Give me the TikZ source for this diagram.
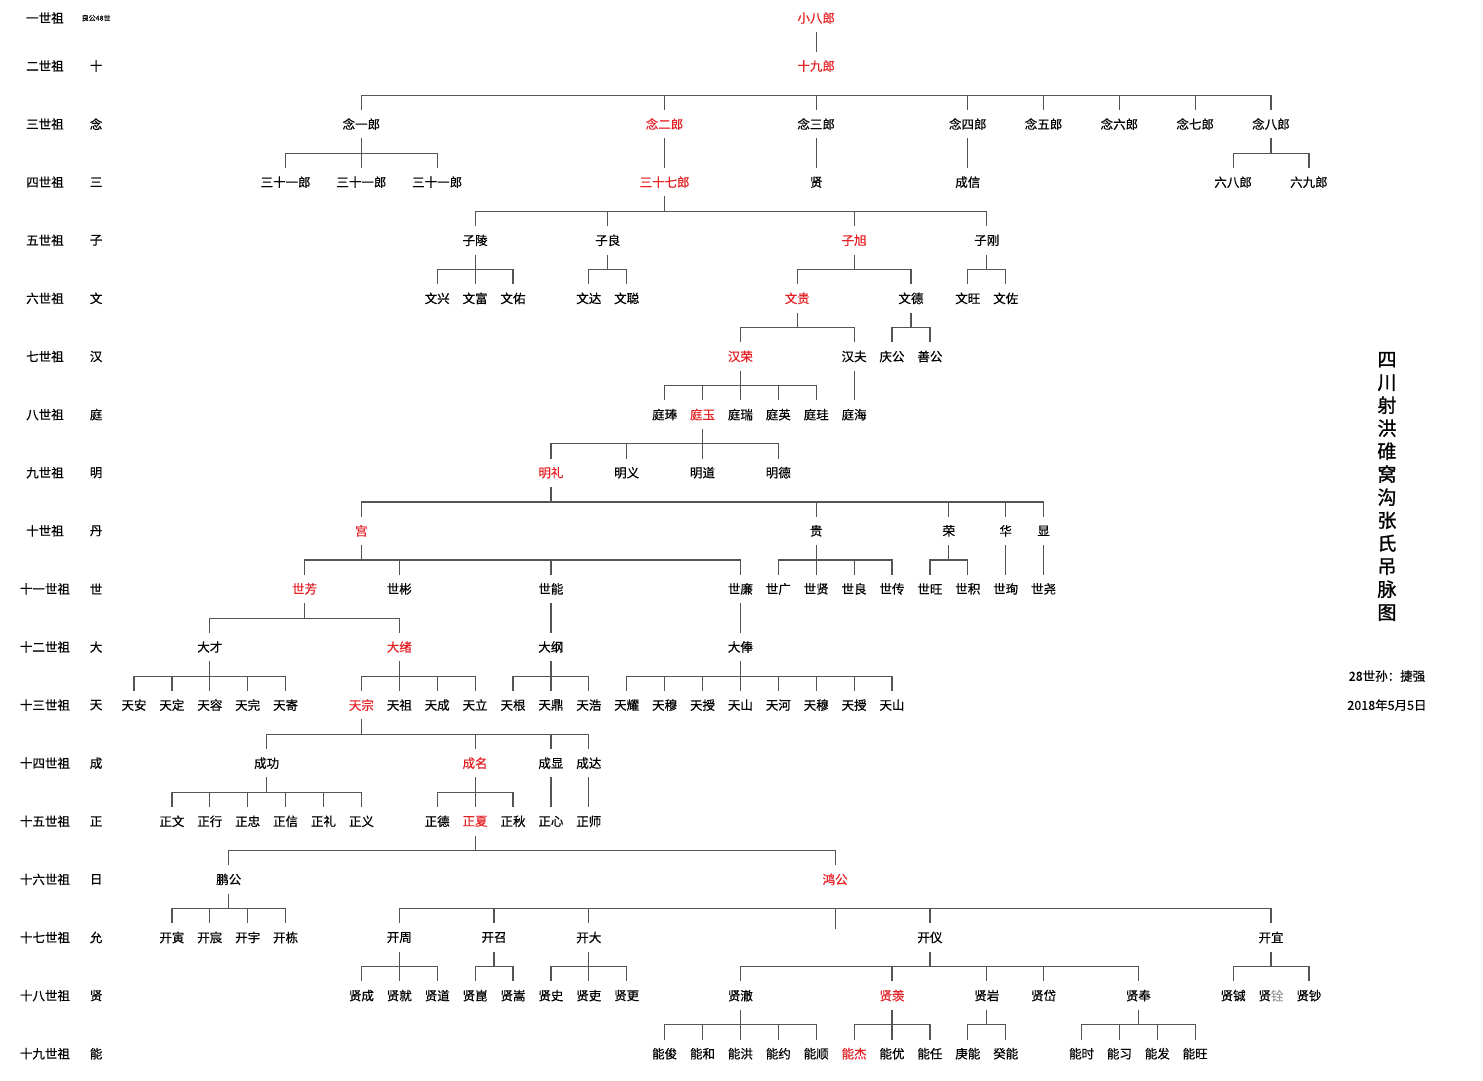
\documentclass[tikz,border=0pt]{standalone}
\usepackage{fontspec}
\setmainfont{Noto Sans CJK SC}[FakeBold=0.5]
\newfontfamily\titlefont{Noto Sans CJK SC}[FakeBold=1.2]
\definecolor{kinred}{RGB}{228,32,36}
\definecolor{kingray}{RGB}{85,85,85}
% parent -> children: drop line, bar, and a leg to each child
\newcommand\kin[2]{%
  \draw[link] (#1.south) -- ++(0pt,-15pt) coordinate (#1-bar);
  \foreach \kid in {#2} \draw[link] (#1-bar) -| (\kid.north);
}
% same, without the drop line
\newcommand\kinbare[2]{%
  \coordinate (#1-bar) at ([yshift=-15pt]#1.south);
  \foreach \kid in {#2} \draw[link] (#1-bar) -| (\kid.north);
}
\begin{document}
\begin{tikzpicture}[x=37.9pt,y=-58.1pt,
    person/.style={minimum height=28pt,inner sep=0pt,font=\fontsize{12.5}{14}\selectfont},
    main/.style={person,text=kinred},
    note/.style={inner sep=0pt,font=\fontsize{7}{8}\selectfont},
    title/.style={inner sep=0pt,align=center,font=\titlefont\fontsize{19}{23}\selectfont},
    link/.style={draw=kingray,line width=1.2pt}]
    \useasboundingbox (-3.5356,0.86403) rectangle (35.5937,19.4527);
    % generation column
    \node[person] (gen1) at (-2.35,1.174) {一世祖};
    \node[note] (origin) at (-1,1.174) {良公48世};
    \foreach \g/\lab/\ch in {2/二世祖/十,3/三世祖/念,4/四世祖/三,5/五世祖/子,6/六世祖/文,
      7/七世祖/汉,8/八世祖/庭,9/九世祖/明,10/十世祖/丹,11/十一世祖/世,12/十二世祖/大,
      13/十三世祖/天,14/十四世祖/成,15/十五世祖/正,16/十六世祖/日,17/十七世祖/允,
      18/十八世祖/贤,19/十九世祖/能} {
        \node[person] (gen\g) at (-2.35,\g) {\lab};
        \node[person] (char\g) at (-1,\g) {\ch};
      }
    % 1-4
    \node[main] (xiaobalang) at (18,1.174) {小八郎};
    \node[main] (shijiulang) at (18,2) {十九郎};
    \foreach \n/\x/\t in {nianyi/6/念一郎,niansan/18/念三郎,niansi/22/念四郎,nianwu/24/念五郎,
      nianliu/26/念六郎,nianqi/28/念七郎,nianba/30/念八郎}
      \node[person] (\n) at (\x,3) {\t};
    \node[main] (nianer) at (14,3) {念二郎};
    \foreach \n/\x/\t in {sanshiyiA/4/三十一郎,sanshiyiB/6/三十一郎,sanshiyiC/8/三十一郎,
      xian/18/贤,chengxin/22/成信,liuba/29/六八郎,liujiu/31/六九郎}
      \node[person] (\n) at (\x,4) {\t};
    \node[main] (sanshiqi) at (14,4) {三十七郎};
    % 5-10
    \foreach \n/\x/\t in {ziling/9/子陵,ziliang/12.5/子良,zigang/22.5/子刚}
      \node[person] (\n) at (\x,5) {\t};
    \node[main] (zixu) at (19,5) {子旭};
    \foreach \n/\x/\t in {wenxing/8/文兴,wenfu/9/文富,wenyou/10/文佑,wenda/12/文达,wencong/13/文聪,
      wende/20.5/文德,wenwang/22/文旺,wenzuo/23/文佐}
      \node[person] (\n) at (\x,6) {\t};
    \node[main] (wengui) at (17.5,6) {文贵};
    \foreach \n/\x/\t in {hanfu/19/汉夫,qinggong/20/庆公,shangong/21/善公}
      \node[person] (\n) at (\x,7) {\t};
    \node[main] (hanrong) at (16,7) {汉荣};
    \foreach \n/\x/\t in {tingbeng/14/庭琫,tingrui/16/庭瑞,tingying/17/庭英,tinggui/18/庭珪,tinghai/19/庭海}
      \node[person] (\n) at (\x,8) {\t};
    \node[main] (tingyu) at (15,8) {庭玉};
    \foreach \n/\x/\t in {mingyi/13/明义,mingdao/15/明道,mingde/17/明德}
      \node[person] (\n) at (\x,9) {\t};
    \node[main] (mingli) at (11,9) {明礼};
    \foreach \n/\x/\t in {gui/18/贵,rong/21.5/荣,hua/23/华,xiand/24/显}
      \node[person] (\n) at (\x,10) {\t};
    \node[main] (gong) at (6,10) {宫};
    % 11-15
    \foreach \n/\x/\t in {shibin/7/世彬,shineng/11/世能,shilian/16/世廉,shiguang/17/世广,shixian/18/世贤,
      shiliang/19/世良,shichuan/20/世传,shiwang/21/世旺,shiji/22/世积,shixun/23/世珣,shiyao/24/世尧}
      \node[person] (\n) at (\x,11) {\t};
    \node[main] (shifang) at (4.5,11) {世芳};
    \foreach \n/\x/\t in {dacai/2/大才,dagang/11/大纲,dafeng/16/大俸}
      \node[person] (\n) at (\x,12) {\t};
    \node[main] (daxu) at (7,12) {大绪};
    \foreach \n/\x/\t in {tianan/0/天安,tianding/1/天定,tianrong/2/天容,tianwan/3/天完,tianji/4/天寄,
      tianzu/7/天祖,tiancheng/8/天成,tianli/9/天立,tiangen/10/天根,tianding2/11/天鼎,tianhao/12/天浩,
      tianyao/13/天耀,tianmuA/14/天穆,tianshouA/15/天授,tianshanA/16/天山,tianhe/17/天河,
      tianmuB/18/天穆,tianshouB/19/天授,tianshanB/20/天山}
      \node[person] (\n) at (\x,13) {\t};
    \node[main] (tianzong) at (6,13) {天宗};
    \foreach \n/\x/\t in {chenggong/3.5/成功,chengxian/11/成显,chengda/12/成达}
      \node[person] (\n) at (\x,14) {\t};
    \node[main] (chengming) at (9,14) {成名};
    \foreach \n/\x/\t in {zhengwen/1/正文,zhengxing/2/正行,zhengzhong/3/正忠,zhengxin/4/正信,
      zhengli/5/正礼,zhengyi/6/正义,zhengde/8/正德,zhengqiu/10/正秋,zhengxinB/11/正心,zhengshi/12/正师}
      \node[person] (\n) at (\x,15) {\t};
    \node[main] (zhengxia) at (9,15) {正夏};
    % 16-19
    \node[person] (penggong) at (2.5,16) {鹏公};
    \node[main] (honggong) at (18.5,16) {鸿公};
    \foreach \n/\x/\t in {kaiyin/1/开寅,kaichen/2/开宸,kaiyu/3/开宇,kaidong/4/开栋,kaizhou/7/开周,
      kaizhao/9.5/开召,kaida/12/开大,kaiyi/21/开仪,kaiyiB/30/开宜}
      \node[person] (\n) at (\x,17) {\t};
    \foreach \n/\x/\t in {xiancheng/6/贤成,xianjiu/7/贤就,xiandao/8/贤道,xiankun/9/贤崑,xiansong/10/贤嵩,
      xianshi/11/贤史,xianli/12/贤吏,xiangeng/13/贤更,xianche/16/贤澈,xianyan/22.5/贤岩,xiandai/24/贤岱,
      xianfeng/26.5/贤奉,xiancheng2/29/贤铖,xianchao/31/贤钞}
      \node[person] (\n) at (\x,18) {\t};
    \node[main] (xianxian) at (20,18) {贤羡};
    \node[person] (xianquan) at (30,18) {贤{\color{black!40}铨}};
    \foreach \n/\x/\t in {nengjun/14/能俊,nenghe/15/能和,nenghong/16/能洪,nengyue/17/能约,nengshun/18/能顺,
      nengyou/20/能优,nengren/21/能任,gengneng/22/庚能,guineng/23/癸能,nengshi/25/能时,nengxi/26/能习,
      nengfa/27/能发,nengwang/28/能旺}
      \node[person] (\n) at (\x,19) {\t};
    \node[main] (nengjie) at (19,19) {能杰};
    % lines
    \kin{xiaobalang}{shijiulang}
    \kinbare{shijiulang}{nianyi,nianer,niansan,niansi,nianwu,nianliu,nianqi,nianba}
    \kin{nianyi}{sanshiyiA,sanshiyiB,sanshiyiC}
    \kin{nianer}{sanshiqi}
    \kin{niansan}{xian}
    \kin{niansi}{chengxin}
    \kin{nianba}{liuba,liujiu}
    \kin{sanshiqi}{ziling,ziliang,zixu,zigang}
    \kin{ziling}{wenxing,wenfu,wenyou}
    \kin{ziliang}{wenda,wencong}
    \kin{zixu}{wengui,wende}
    \kin{zigang}{wenwang,wenzuo}
    \kin{wengui}{hanrong,hanfu}
    \kin{wende}{qinggong,shangong}
    \kin{hanrong}{tingbeng,tingyu,tingrui,tingying,tinggui}
    \kin{hanfu}{tinghai}
    \kin{tingyu}{mingli,mingyi,mingdao,mingde}
    \kin{mingli}{gong,gui,rong,hua,xiand}
    \kin{gong}{shifang,shibin,shineng,shilian}
    \kin{gui}{shiguang,shixian,shiliang,shichuan}
    \kin{rong}{shiwang,shiji}
    \kin{hua}{shixun}
    \kin{xiand}{shiyao}
    \kin{shifang}{dacai,daxu}
    \kin{shineng}{dagang}
    \kin{shilian}{dafeng}
    \kin{dacai}{tianan,tianding,tianrong,tianwan,tianji}
    \kin{daxu}{tianzong,tianzu,tiancheng,tianli}
    \kin{dagang}{tiangen,tianding2,tianhao}
    \kin{dafeng}{tianyao,tianmuA,tianshouA,tianshanA,tianhe,tianmuB,tianshouB,tianshanB}
    \kin{tianzong}{chenggong,chengming,chengxian,chengda}
    \kin{chenggong}{zhengwen,zhengxing,zhengzhong,zhengxin,zhengli,zhengyi}
    \kin{chengming}{zhengde,zhengxia,zhengqiu}
    \kin{chengxian}{zhengxinB}
    \kin{chengda}{zhengshi}
    \kin{zhengxia}{penggong,honggong}
    \kin{penggong}{kaiyin,kaichen,kaiyu,kaidong}
    \kinbare{honggong}{kaizhou,kaizhao,kaida,kaiyi,kaiyiB}
    \draw[link] (honggong-bar) -- ++(0pt,-20pt) coordinate (honggong-stub);
    \kin{kaizhou}{xiancheng,xianjiu,xiandao}
    \kin{kaizhao}{xiankun,xiansong}
    \kin{kaida}{xianshi,xianli,xiangeng}
    \kin{kaiyi}{xianche,xianxian,xianyan,xiandai,xianfeng}
    \kin{kaiyiB}{xiancheng2,xianchao}
    \kin{xianche}{nengjun,nenghe,nenghong,nengyue,nengshun}
    \kin{xianxian}{nengjie,nengyou,nengren}
    \kin{xianyan}{gengneng,guineng}
    \kin{xianfeng}{nengshi,nengxi,nengfa,nengwang}
    % title block
    \node[title] (title) at (33.06,9.2375) {四\\川\\射\\洪\\碓\\窝\\沟\\张\\氏\\吊\\脉\\图};
    \node[person] (author) at (33.06,12.5) {28世孙：捷强};
    \node[person] (date) at (33.06,13) {2018年5月5日};
\end{tikzpicture}
\end{document}
